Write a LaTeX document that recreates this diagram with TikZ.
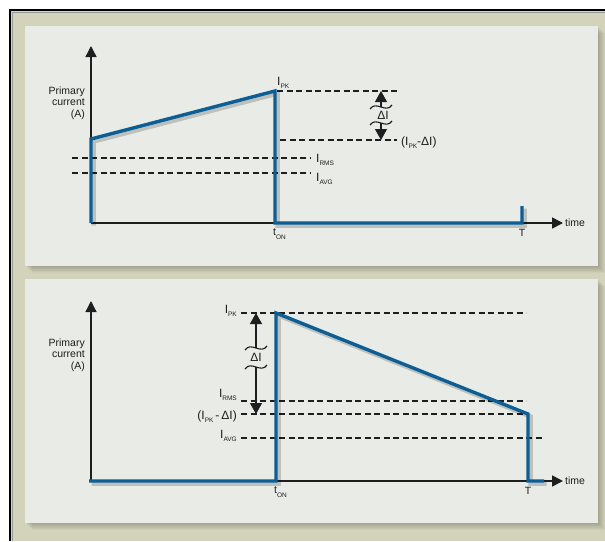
\documentclass[tikz,border=0pt]{standalone}
\usepackage{fontspec}
\setmainfont{Liberation Sans}
\usetikzlibrary{arrows.meta}
\definecolor{framebg}{HTML}{D3D3BB}
\definecolor{panelbg}{HTML}{E9EBE6}
\definecolor{waveblue}{HTML}{0B5E96}
\definecolor{ink}{HTML}{1E1E1E}
\newcommand\lsub[1]{\raisebox{-3.5pt}{\fontsize{6.5}{6.5}\selectfont #1}}
\newcommand\brkmark[1]{\draw[brk,shift={(#1)}] (-11,2) .. controls (-5,-7) and (5,7) .. (11,-2);}
\begin{document}
\begin{tikzpicture}[x=1pt,y=-1pt,
  txt/.style={font=\fontsize{10.5}{11.5}\selectfont,inner sep=0pt,text=ink},
  lvl/.style={font=\fontsize{12}{12}\selectfont,inner sep=0pt,text=ink},
  axisline/.style={draw=ink,line width=1.3pt,-{Triangle[length=11pt,width=11pt]}},
  level/.style={draw=ink,line width=1.1pt,dash pattern=on 6pt off 3.5pt},
  wave/.style={draw=waveblue,line width=3.4pt},
  waveshade/.style={draw=black,opacity=0.18,line width=4.5pt,transform canvas={xshift=2.5pt,yshift=-2.5pt}},
  delta/.style={draw=ink,line width=1.2pt,-{Triangle[length=11pt,width=12pt]}},
  brk/.style={draw=ink,line width=1.1pt}]
\useasboundingbox (0,0) rectangle (605,541);
\fill[white] (0,0) rectangle (605,541);
\fill[framebg] (10,10) rectangle (605,541);
\draw[black!40,line width=1.5pt] (12.5,541) -- (12.5,12.5) -- (605,12.5);
\draw[line width=2.2pt] (10,541) -- (10,10) -- (605,10);
\foreach \s in {1,...,7}{
  \fill[black,opacity=0.03] (25+\s,26+\s) rectangle (598+\s,266+\s);
  \fill[black,opacity=0.03] (25+\s,279+\s) rectangle (598+\s,523+\s);}
\fill[panelbg] (25,26) rectangle (598,266);
\fill[panelbg] (25,279) rectangle (598,523);
% top panel
\coordinate (o1) at (91,223);
\coordinate (ytop1) at (91,46);
\coordinate (xend1) at (563,223);
\coordinate (a1) at (91,139);
\coordinate (pk1) at (275,91);
\coordinate (on1) at (275,223);
\coordinate (T1) at (522,223);
\coordinate (Tup1) at (522,206);
\coordinate (rmsL1) at (72,158);
\coordinate (rmsR1) at (311,158);
\coordinate (avgL1) at (72,173);
\coordinate (avgR1) at (311,173);
\coordinate (pkL1) at (277,91);
\coordinate (pkR1) at (398,91);
\coordinate (lowL1) at (280,140);
\coordinate (lowR1) at (397,140);
\coordinate (dtop1) at (381,91);
\coordinate (dbot1) at (381,140);
\coordinate (b1a) at (381,107);
\coordinate (b1b) at (381,123);
\draw[axisline] (o1) -- (ytop1);
\draw[axisline,line width=1.6pt] (o1) -- (xend1);
\draw[level] (rmsL1) -- (rmsR1);
\draw[level] (avgL1) -- (avgR1);
\draw[level] (pkL1) -- (pkR1);
\draw[level] (lowL1) -- (lowR1);
\draw[waveshade] (o1) -- (a1) -- (pk1) -- (on1) -- (T1) -- (Tup1);
\draw[wave] (o1) -- (a1) -- (pk1) -- (on1) -- (T1) -- (Tup1);
\draw[delta] (b1a) -- (dtop1);
\draw[delta] (b1b) -- (dbot1);
\brkmark{b1a}
\brkmark{b1b}
\node[lvl] (dl1) at (383,115) {ΔI};
\node[txt,anchor=east,align=right] (ylab1) at (85,103) {Primary\\current\\(A)};
\node[lvl,anchor=base west] (lpk1) at (277,85) {I\lsub{PK}};
\node[lvl,anchor=base west] (lrms1) at (316,162) {I\lsub{RMS}};
\node[lvl,anchor=base west] (lavg1) at (316,181) {I\lsub{AVG}};
\node[lvl,anchor=base west] (llow1) at (401,145) {(I\lsub{PK}-ΔI)};
\node[txt,anchor=north west] (ton1) at (273,229) {t\lsub{ON}};
\node[txt,anchor=north] (lT1) at (522,229) {T};
\node[txt,anchor=west] (time1) at (565,223) {time};
% bottom panel
\coordinate (o2) at (91,481);
\coordinate (ytop2) at (91,301);
\coordinate (xend2) at (563,481);
\coordinate (s2) at (89,481);
\coordinate (on2) at (276,481);
\coordinate (pk2) at (276,313);
\coordinate (low2) at (528,414);
\coordinate (T2) at (528,481);
\coordinate (e2) at (544,481);
\coordinate (pkL2) at (241,313);
\coordinate (pkR2) at (526,313);
\coordinate (rmsL2) at (241,401);
\coordinate (rmsR2) at (526,401);
\coordinate (lowL2) at (241,414);
\coordinate (avgL2) at (241,438);
\coordinate (avgR2) at (543,438);
\coordinate (dtop2) at (256,313);
\coordinate (dbot2) at (256,414);
\coordinate (b2a) at (256,348);
\coordinate (b2b) at (256,367);
\draw[axisline] (o2) -- (ytop2);
\draw[axisline,line width=1.6pt] (o2) -- (xend2);
\draw[level] (pkL2) -- (pkR2);
\draw[level] (rmsL2) -- (rmsR2);
\draw[level] (lowL2) -- (low2);
\draw[level] (avgL2) -- (avgR2);
\draw[waveshade] (s2) -- (on2) -- (pk2) -- (low2) -- (T2) -- (e2);
\draw[wave] (s2) -- (on2) -- (pk2) -- (low2) -- (T2) -- (e2);
\draw[delta] (b2a) -- (dtop2);
\draw[delta] (b2b) -- (dbot2);
\brkmark{b2a}
\brkmark{b2b}
\node[lvl] (dl2) at (256,357) {ΔI};
\node[txt,anchor=east,align=right] (ylab2) at (85,355) {Primary\\current\\(A)};
\node[lvl,anchor=base east] (lpk2) at (237,313) {I\lsub{PK}};
\node[lvl,anchor=base east] (lrms2) at (237,397) {I\lsub{RMS}};
\node[lvl,anchor=base east] (llow2) at (237,419) {(I\lsub{PK}\,-\,ΔI)};
\node[lvl,anchor=base east] (lavg2) at (237,438) {I\lsub{AVG}};
\node[txt,anchor=north west] (ton2) at (274,487) {t\lsub{ON}};
\node[txt,anchor=north] (lT2) at (528,487) {T};
\node[txt,anchor=west] (time2) at (565,481) {time};
\end{tikzpicture}
\end{document}
